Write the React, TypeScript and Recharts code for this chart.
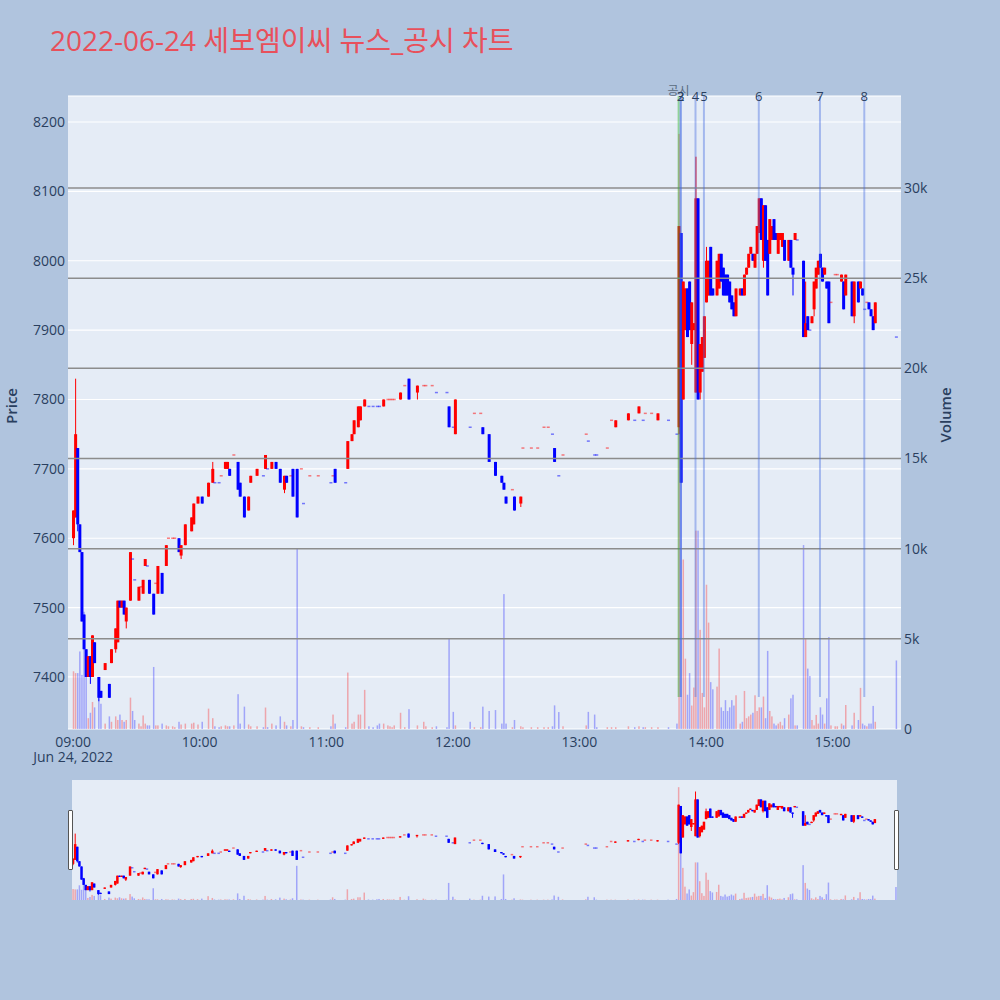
import React from "react";
import { Bar, CartesianGrid, ComposedChart, ReferenceLine, XAxis, YAxis } from "recharts";

const FONT = '"Open Sans", "Noto Sans CJK KR", sans-serif';
const PAGE = "#B0C4DE";
const PLOT = "#E5ECF6";
const UP = "#FF0000";
const DOWN = "#0000FF";
const INK = "#2a3f5f";
const TITLE = "#E8505B";

// [minute after 09:00, open, high, low, close, volume]
const hour09 = [
  [0, 7600, 7640, 7590, 7640, 3200], [1, 7630, 7830, 7630, 7750, 3100], [2, 7730, 7730, 7610, 7620, 3100],
  [3, 7620, 7620, 7580, 7580, 4300], [4, 7580, 7580, 7480, 7480, 3000], [5, 7490, 7490, 7440, 7440, 6500],
  [6, 7440, 7440, 7400, 7400, 4000], [7, 7400, 7430, 7400, 7430, 600], [8, 7430, 7430, 7390, 7400, 900],
  [9, 7400, 7460, 7400, 7460, 1500], [10, 7450, 7450, 7420, 7420, 1200], [12, 7400, 7400, 7365, 7370, 1700],
  [13, 7380, 7380, 7370, 7370, 1400], [15, 7410, 7420, 7410, 7420, 300], [17, 7390, 7390, 7370, 7370, 700],
  [18, 7420, 7440, 7420, 7440, 400], [20, 7440, 7470, 7435, 7470, 700], [21, 7450, 7510, 7450, 7510, 500],
  [22, 7510, 7510, 7500, 7500, 800], [23, 7500, 7510, 7500, 7510, 500], [24, 7510, 7510, 7490, 7490, 400],
  [25, 7480, 7500, 7470, 7500, 500], [27, 7510, 7580, 7510, 7580, 1740], [28, 7570, 7570, 7570, 7570, 1000],
  [29, 7540, 7540, 7540, 7540, 500], [31, 7510, 7530, 7510, 7530, 300], [32, 7530, 7530, 7530, 7530, 150],
  [33, 7520, 7540, 7520, 7540, 750], [34, 7560, 7570, 7560, 7570, 300], [35, 7560, 7560, 7560, 7560, 200],
  [36, 7540, 7540, 7520, 7520, 200], [38, 7520, 7520, 7490, 7490, 3440], [39, 7535, 7535, 7535, 7535, 200],
  [40, 7520, 7560, 7520, 7560, 200], [42, 7550, 7550, 7520, 7520, 300], [44, 7560, 7590, 7560, 7590, 200],
  [45, 7600, 7600, 7600, 7600, 150], [47, 7600, 7600, 7600, 7600, 150], [48, 7600, 7600, 7600, 7600, 100],
  [50, 7600, 7600, 7580, 7580, 400], [51, 7575, 7590, 7570, 7590, 250], [53, 7590, 7620, 7590, 7620, 300],
  [56, 7610, 7630, 7610, 7630, 300], [57, 7620, 7650, 7620, 7650, 350], [59, 7650, 7660, 7650, 7660, 250],
];

const hour10 = [
  [61, 7660, 7660, 7650, 7650, 400], [64, 7660, 7680, 7660, 7680, 1130], [66, 7680, 7710, 7680, 7700, 600],
  [67, 7680, 7680, 7680, 7680, 150], [69, 7680, 7680, 7680, 7680, 100], [70, 7690, 7690, 7690, 7690, 150],
  [72, 7700, 7710, 7700, 7710, 200], [73, 7700, 7710, 7700, 7710, 150], [74, 7700, 7700, 7690, 7690, 150],
  [76, 7720, 7720, 7720, 7720, 200], [78, 7710, 7710, 7670, 7670, 1930], [79, 7680, 7680, 7660, 7660, 300],
  [81, 7660, 7660, 7630, 7630, 1240], [83, 7640, 7660, 7640, 7660, 250], [84, 7680, 7690, 7680, 7690, 150],
  [87, 7690, 7700, 7690, 7700, 150], [90, 7690, 7690, 7690, 7690, 100], [91, 7700, 7720, 7700, 7720, 1190],
  [92, 7700, 7700, 7700, 7700, 100], [94, 7700, 7710, 7700, 7710, 300], [96, 7710, 7710, 7700, 7700, 200],
  [98, 7700, 7700, 7680, 7680, 700], [100, 7670, 7690, 7665, 7690, 400], [101, 7690, 7690, 7680, 7680, 200],
  [103, 7690, 7690, 7690, 7690, 150], [104, 7700, 7700, 7660, 7660, 500], [106, 7700, 7700, 7630, 7630, 10000],
  [108, 7700, 7700, 7700, 7700, 150], [109, 7650, 7650, 7650, 7650, 100], [112, 7690, 7690, 7690, 7690, 100],
  [116, 7690, 7690, 7690, 7690, 100],
];

const hour11 = [
  [122, 7680, 7680, 7680, 7680, 150], [123, 7690, 7690, 7690, 7690, 800], [124, 7700, 7700, 7680, 7680, 300],
  [129, 7680, 7680, 7680, 7680, 100], [130, 7700, 7740, 7700, 7740, 3130], [132, 7740, 7750, 7740, 7750, 300],
  [133, 7750, 7770, 7750, 7770, 400], [135, 7760, 7790, 7760, 7790, 800], [136, 7770, 7790, 7770, 7790, 800],
  [138, 7790, 7800, 7790, 7800, 2170], [140, 7790, 7790, 7790, 7790, 150], [142, 7790, 7790, 7790, 7790, 100],
  [144, 7790, 7790, 7790, 7790, 200], [145, 7790, 7790, 7790, 7790, 300], [147, 7790, 7800, 7790, 7800, 300],
  [149, 7800, 7800, 7800, 7800, 200], [150, 7800, 7800, 7800, 7800, 150], [151, 7800, 7800, 7800, 7800, 100],
  [152, 7800, 7800, 7800, 7800, 200], [155, 7800, 7810, 7800, 7810, 900], [157, 7820, 7820, 7820, 7820, 100],
  [159, 7830, 7830, 7800, 7800, 1100], [163, 7810, 7820, 7800, 7820, 200], [166, 7820, 7820, 7820, 7820, 400],
  [167, 7820, 7820, 7820, 7820, 150], [170, 7820, 7820, 7820, 7820, 100], [172, 7810, 7810, 7810, 7810, 150],
  [177, 7810, 7810, 7810, 7810, 100], [178, 7790, 7790, 7760, 7760, 5000],
];

const hour12 = [
  [180, 7760, 7760, 7760, 7760, 950], [181, 7750, 7800, 7750, 7800, 200], [188, 7760, 7760, 7760, 7760, 400],
  [190, 7780, 7780, 7780, 7780, 100], [193, 7780, 7780, 7780, 7780, 100], [194, 7760, 7760, 7750, 7750, 1240],
  [197, 7750, 7750, 7710, 7710, 1000], [200, 7710, 7710, 7690, 7690, 1050], [203, 7690, 7690, 7680, 7680, 300],
  [204, 7680, 7680, 7670, 7670, 7480], [205, 7660, 7660, 7650, 7650, 300], [208, 7670, 7670, 7670, 7670, 100],
  [209, 7660, 7660, 7640, 7640, 500], [212, 7650, 7660, 7645, 7660, 150], [213, 7730, 7730, 7730, 7730, 100],
  [217, 7730, 7730, 7730, 7730, 100], [220, 7730, 7730, 7730, 7730, 100], [223, 7760, 7760, 7760, 7760, 100],
  [225, 7760, 7760, 7760, 7760, 100], [227, 7750, 7750, 7750, 7750, 150], [228, 7730, 7730, 7710, 7710, 1310],
  [230, 7690, 7690, 7690, 7690, 940], [232, 7720, 7720, 7720, 7720, 150],
];

const hour13 = [
  [243, 7750, 7750, 7750, 7750, 200], [244, 7740, 7740, 7740, 7740, 950], [247, 7720, 7720, 7720, 7720, 800],
  [248, 7720, 7720, 7720, 7720, 100], [253, 7730, 7730, 7730, 7730, 100], [255, 7770, 7770, 7770, 7770, 100],
  [257, 7760, 7770, 7760, 7770, 100], [263, 7770, 7780, 7770, 7780, 150], [266, 7770, 7770, 7770, 7770, 100],
  [268, 7780, 7790, 7780, 7790, 150], [270, 7770, 7770, 7770, 7770, 100], [271, 7780, 7780, 7780, 7780, 100],
  [274, 7780, 7780, 7780, 7780, 100], [277, 7770, 7780, 7770, 7780, 100], [282, 7770, 7770, 7770, 7770, 100],
  [286, 7750, 7750, 7750, 7750, 300], [287, 7760, 8050, 7750, 8050, 33000], [288, 8040, 8040, 7680, 7680, 15000],
  [289, 7800, 7970, 7800, 7970, 9400], [290, 7900, 7960, 7900, 7960, 3900], [291, 7960, 7960, 7890, 7890, 1900],
  [292, 7970, 7970, 7900, 7900, 3100], [293, 7880, 7940, 7850, 7940, 1300], [294, 7900, 7910, 7900, 7910, 2300],
  [295, 7810, 8150, 7810, 8090, 11000], [296, 8090, 8090, 7800, 7800, 11000], [297, 7810, 7880, 7800, 7880, 5500],
  [298, 7840, 7890, 7840, 7890, 2000], [299, 7860, 7920, 7860, 7920, 1200],
];

const hour14 = [
  [300, 7940, 8020, 7940, 8000, 8000], [301, 7950, 8000, 7950, 8000, 5900], [302, 8020, 8020, 7950, 7950, 2600],
  [303, 7960, 7960, 7950, 7950, 2200], [305, 7950, 8000, 7950, 8000, 2350], [306, 7960, 8010, 7960, 8010, 4460],
  [307, 8010, 8010, 7970, 7970, 1200], [308, 7990, 7990, 7950, 7950, 1000], [309, 7980, 7980, 7950, 7950, 1600],
  [310, 7980, 7980, 7950, 7950, 1000], [311, 7970, 7970, 7940, 7940, 1200], [312, 7950, 7950, 7930, 7930, 1600],
  [313, 7940, 7940, 7920, 7920, 1300], [314, 7920, 7960, 7920, 7960, 1870], [316, 7950, 7960, 7950, 7960, 300],
  [317, 7960, 7960, 7950, 7950, 400], [318, 7950, 7980, 7950, 7980, 2110], [319, 7980, 7990, 7980, 7990, 600],
  [320, 7990, 8010, 7990, 8010, 700], [321, 8010, 8020, 8010, 8020, 800], [322, 8010, 8010, 8000, 8000, 900],
  [323, 7990, 8010, 7990, 8010, 1870], [324, 8010, 8050, 8010, 8050, 1000], [325, 8040, 8090, 8040, 8090, 1200],
  [326, 8090, 8090, 8030, 8030, 1200], [327, 8000, 8080, 7990, 8080, 1800], [328, 8080, 8080, 8000, 8000, 600],
  [329, 8030, 8030, 7950, 7950, 4330], [330, 8010, 8060, 8010, 8060, 1000], [331, 8030, 8050, 8030, 8050, 700],
  [332, 8060, 8060, 8030, 8030, 300], [333, 8040, 8040, 8030, 8030, 200], [334, 8010, 8040, 8010, 8040, 300],
  [335, 8030, 8040, 8030, 8040, 400], [336, 8020, 8040, 8020, 8040, 200], [337, 8030, 8030, 8000, 8000, 600],
  [339, 8000, 8030, 8000, 8030, 800], [340, 8030, 8030, 7990, 7990, 1700], [341, 7990, 7990, 7950, 7980, 1900],
  [342, 8030, 8040, 8030, 8040, 200], [343, 8030, 8030, 8030, 8030, 200], [346, 8000, 8000, 7890, 7890, 10200],
  [347, 7890, 7970, 7890, 7910, 5000], [348, 7920, 7920, 7900, 7900, 3350], [349, 7900, 7900, 7900, 7900, 2940],
  [350, 7910, 7920, 7910, 7920, 500], [351, 7930, 7970, 7920, 7970, 200], [352, 7960, 7990, 7960, 7990, 780],
  [353, 7980, 8000, 7980, 8000, 300], [354, 8010, 8010, 7990, 7990, 1200], [355, 7990, 7990, 7970, 7970, 800],
  [356, 7980, 7990, 7980, 7990, 300], [357, 7970, 7970, 7960, 7960, 1700], [358, 7970, 7970, 7910, 7910, 5100],
  [359, 7940, 7940, 7940, 7940, 200],
];

const hour15 = [
  [361, 7980, 7980, 7980, 7980, 150], [362, 7980, 7980, 7980, 7980, 150], [364, 7970, 7980, 7970, 7980, 300],
  [365, 7970, 7970, 7930, 7930, 200], [366, 7950, 7980, 7950, 7980, 1330], [369, 7970, 7970, 7920, 7920, 200],
  [370, 7920, 7970, 7910, 7970, 900], [372, 7970, 7970, 7940, 7940, 500], [373, 7960, 7970, 7960, 7970, 2280],
  [374, 7960, 7960, 7950, 7950, 300], [375, 7930, 7930, 7930, 7930, 200], [376, 7940, 7940, 7940, 7940, 150],
  [377, 7940, 7940, 7930, 7930, 300], [378, 7930, 7930, 7920, 7920, 300], [379, 7920, 7920, 7900, 7900, 1280],
  [380, 7910, 7940, 7910, 7940, 400], [390, 7890, 7890, 7890, 7890, 3800],
];

// news / disclosure markers
const newsMinutes = [287, 288, 288, 295, 299, 325, 354, 375];
const newsLabels = ["공시", "2", "3", "4", "5", "6", "7", "8"];

const priceTicks = [7400, 7500, 7600, 7700, 7800, 7900, 8000, 8100, 8200];
const volumeTicks = [0, 5000, 10000, 15000, 20000, 25000, 30000];
const timeTicks = [0, 60, 120, 180, 240, 300, 360];
const timeLabels = ["09:00", "10:00", "11:00", "12:00", "13:00", "14:00", "15:00"];

const PRICE_DOMAIN = [7325, 8237.5];
const VOL_DOMAIN = [0, 35100];
const X_DOMAIN = [-2.4, 392.4];
const MINI_DOMAIN = [-0.3, 390.7];

const candles = [...hour09, ...hour10, ...hour11, ...hour12, ...hour13, ...hour14, ...hour15];

let prevUp = true;
const rows = candles.map(([t, o, h, l, c, v], i) => {
  let up: boolean;
  if (c > o) up = true;
  else if (c < o) up = false;
  else {
    const pc = i > 0 ? candles[i - 1][4] : c;
    up = c > pc ? true : c < pc ? false : prevUp;
  }
  prevUp = up;
  return { t, o, h, l, c, v, up };
});

const wickKey = (d: any) => [d.l, d.h];
const bodyKey = (d: any) => [Math.min(d.o, d.c), Math.max(d.o, d.c)];

const wickShape = (w: number) => (p: any) => {
  const h = Math.abs(p.height || 0);
  if (!(h > 0.3)) return <g />;
  const top = Math.min(p.y, p.y + p.height);
  return <rect x={p.x + p.width / 2 - w / 2} y={top} width={w} height={h} fill={p.payload.up ? UP : DOWN} />;
};

const bodyShape = (w: number) => (p: any) => {
  const h = Math.abs(p.height || 0);
  const top = Math.min(p.y, p.y + (p.height || 0));
  const flat = h < 1;
  return (
    <rect
      x={p.x + p.width / 2 - w / 2}
      y={flat ? top - 0.75 : top}
      width={w}
      height={flat ? 1.5 : h}
      fill={p.payload.up ? UP : DOWN}
      fillOpacity={flat ? 0.5 : 1}
    />
  );
};

const volShape = (w: number) => (p: any) => {
  const h = Math.abs(p.height || 0);
  if (!(h > 0)) return <g />;
  const top = Math.min(p.y, p.y + p.height);
  return (
    <rect x={p.x + p.width / 2 - w / 2} y={top} width={w} height={h} fill={p.payload.up ? UP : DOWN} fillOpacity={0.3} />
  );
};

function TimeTick({ x, y, payload, index }: any) {
  return (
    <g>
      <text x={x} y={y} dy={17.5} textAnchor="middle" fontSize={14} fill={INK} fontFamily={FONT}>
        {timeLabels[index] ?? ""}
      </text>
      {payload.value === 0 && (
        <text x={x} y={y} dy={33} textAnchor="middle" fontSize={14} fill={INK} fontFamily={FONT}>
          Jun 24, 2022
        </text>
      )}
    </g>
  );
}

const fmtVol = (v: number) => (v === 0 ? "0" : `${v / 1000}k`);

export default function App() {
  return (
    <div
      style={{
        position: "absolute",
        left: 0,
        top: 0,
        width: 1000,
        height: 1000,
        background: PAGE,
        fontFamily: FONT,
        overflow: "hidden",
      }}
    >
      <div style={{ position: "absolute", left: 50, top: 24, fontSize: 28, lineHeight: "32px", color: TITLE, whiteSpace: "nowrap" }}>
        2022-06-24 세보엠이씨 뉴스_공시 차트
      </div>

      <div style={{ position: "absolute", left: 0, top: 0 }}>
        <ComposedChart width={1000} height={780} data={rows} margin={{ top: 96, right: 54, bottom: 21, left: 20 }}>
          <CartesianGrid xAxisId="main" yAxisId="price" vertical={false} stroke="#ffffff" strokeWidth={1.2} fill={PLOT} />
          <XAxis
            xAxisId="main"
            type="number"
            dataKey="t"
            domain={X_DOMAIN}
            allowDataOverflow
            ticks={timeTicks}
            interval={0}
            tick={<TimeTick />}
            axisLine={false}
            tickLine={false}
            tickSize={0}
            tickMargin={0}
            height={30}
          />
          <XAxis xAxisId="w" type="number" dataKey="t" domain={X_DOMAIN} allowDataOverflow hide height={0} />
          <XAxis xAxisId="b" type="number" dataKey="t" domain={X_DOMAIN} allowDataOverflow hide height={0} />
          <YAxis
            yAxisId="price"
            orientation="left"
            domain={PRICE_DOMAIN}
            allowDataOverflow
            ticks={priceTicks}
            interval={0}
            width={48}
            axisLine={false}
            tickLine={false}
            tickSize={0}
            tickMargin={3}
            tick={{ fontSize: 14, fill: INK, fontFamily: FONT }}
          />
          <YAxis
            yAxisId="vol"
            orientation="right"
            domain={VOL_DOMAIN}
            allowDataOverflow
            ticks={volumeTicks}
            interval={0}
            width={45}
            axisLine={false}
            tickLine={false}
            tickSize={0}
            tickMargin={3}
            tickFormatter={fmtVol}
            tick={{ fontSize: 14, fill: INK, fontFamily: FONT }}
          />
          {volumeTicks.slice(1).map((v) => (
            <ReferenceLine key={v} xAxisId="main" yAxisId="vol" y={v} stroke="#8c8c8c" strokeWidth={1.5} />
          ))}
          <Bar xAxisId="main" yAxisId="vol" dataKey="v" barSize={1} shape={volShape(1.5)} isAnimationActive={false} />
          {newsMinutes.map((m, i) => (
            <ReferenceLine
              key={i}
              xAxisId="main"
              yAxisId="price"
              segment={[
                { x: m, y: 7371 },
                { x: m, y: PRICE_DOMAIN[1] },
              ]}
              stroke={i === 0 ? "rgba(40,180,40,0.45)" : "rgba(65,105,225,0.4)"}
              strokeWidth={2}
              ifOverflow="visible"
              label={{
                value: newsLabels[i],
                position: "top",
                offset: i === 0 ? 1 : -5,
                fill: i === 0 ? "#596b80" : INK,
                fontSize: i === 0 ? 12 : 13,
                fontFamily: FONT,
              }}
            />
          ))}
          <Bar xAxisId="w" yAxisId="price" dataKey={wickKey} barSize={1} shape={wickShape(1)} isAnimationActive={false} />
          <Bar xAxisId="b" yAxisId="price" dataKey={bodyKey} barSize={1} shape={bodyShape(3)} isAnimationActive={false} />
        </ComposedChart>
      </div>

      <div
        style={{
          position: "absolute",
          left: 0,
          top: 398,
          width: 22,
          textAlign: "center",
          fontSize: 15,
          fontWeight: 600,
          color: INK,
          transform: "rotate(-90deg)",
          transformOrigin: "11px 15px",
          whiteSpace: "nowrap",
          lineHeight: "30px",
          height: 30,
        }}
      >
        <span style={{ display: "inline-block", width: 22 }}>Price</span>
      </div>
      <div
        style={{
          position: "absolute",
          left: 905,
          top: 400,
          width: 80,
          height: 30,
          lineHeight: "30px",
          textAlign: "center",
          fontSize: 15,
          fontWeight: 600,
          color: INK,
          transform: "rotate(-90deg)",
        }}
      >
        Volume
      </div>

      <div style={{ position: "absolute", left: 72, top: 780, width: 825, height: 120, background: PLOT }}>
        <ComposedChart width={825} height={120} data={rows} margin={{ top: 0, right: 0, bottom: 0, left: 0 }}>
          <XAxis xAxisId="main" type="number" dataKey="t" domain={MINI_DOMAIN} allowDataOverflow hide height={0} />
          <XAxis xAxisId="w" type="number" dataKey="t" domain={MINI_DOMAIN} allowDataOverflow hide height={0} />
          <XAxis xAxisId="b" type="number" dataKey="t" domain={MINI_DOMAIN} allowDataOverflow hide height={0} />
          <YAxis yAxisId="price" domain={PRICE_DOMAIN} allowDataOverflow hide width={0} />
          <YAxis yAxisId="vol" domain={VOL_DOMAIN} allowDataOverflow hide width={0} />
          <Bar xAxisId="main" yAxisId="vol" dataKey="v" barSize={1} shape={volShape(1.5)} isAnimationActive={false} />
          <Bar xAxisId="w" yAxisId="price" dataKey={wickKey} barSize={1} shape={wickShape(1)} isAnimationActive={false} />
          <Bar xAxisId="b" yAxisId="price" dataKey={bodyKey} barSize={1} shape={bodyShape(2.5)} isAnimationActive={false} />
        </ComposedChart>
      </div>
      <div
        style={{
          position: "absolute",
          left: 68,
          top: 810,
          width: 3,
          height: 58,
          background: "#fff",
          border: "1px solid #555",
          borderRadius: 1,
        }}
      />
      <div
        style={{
          position: "absolute",
          left: 894,
          top: 810,
          width: 3,
          height: 58,
          background: "#fff",
          border: "1px solid #555",
          borderRadius: 1,
        }}
      />
    </div>
  );
}
